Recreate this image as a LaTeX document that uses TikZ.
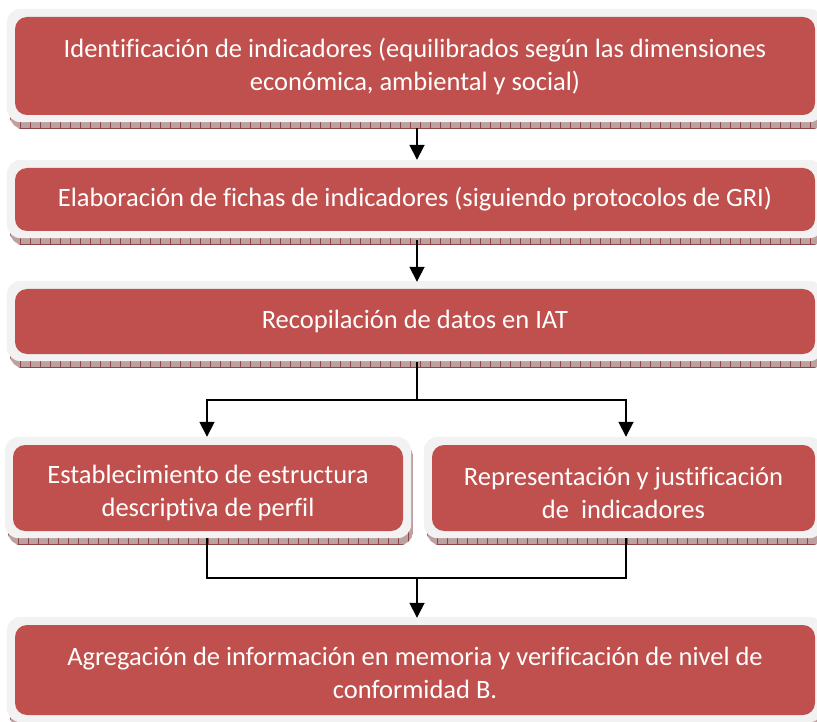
\documentclass[tikz,border=0pt]{standalone}
\usepackage{fontspec}
\setmainfont[Ligatures={NoCommon}]{Carlito}
\usetikzlibrary{arrows.meta,calc}
\definecolor{boxred}{RGB}{192,80,77}
\definecolor{outergray}{RGB}{242,242,242}
\definecolor{hatchc}{RGB}{190,160,160}
\definecolor{tickc}{RGB}{140,70,70}
\pgfdeclarelayer{background}
\pgfsetlayers{background,main}
\newcommand{\boxbg}[1]{%
  \begin{scope}
    \clip[rounded corners=14pt] ($(#1.north west)+(-5,-2)$) rectangle ($(#1.south east)+(10,14)$);
    \fill[hatchc] ($(#1.north west)+(-5,-2)$) rectangle ($(#1.south east)+(10,14)$);
    \draw[tickc, line width=0.6pt] ($(#1.south west)+(-5,13.5)$) -- ($(#1.south east)+(10,13.5)$);
    \foreach \k in {0,...,82}{\draw[tickc, line width=0.6pt] ($(#1.south west)+(10*\k-5,0)$) -- ($(#1.south west)+(10*\k-5,14)$);}
  \end{scope}
  \fill[outergray, rounded corners=14pt] ($(#1.north west)+(-8,-8)$) rectangle ($(#1.south east)+(8,7)$);
}
\newcommand{\upstrut}[1]{\rule{0pt}{#1}}
\tikzset{
  x=1pt, y=-1pt,
  redbox/.style={fill=boxred, rounded corners=12pt, text=white, align=center,
    inner sep=0pt, font=\fontsize{26.5}{33}\selectfont},
  conn/.style={line width=1.8pt, black, line join=miter},
  arr/.style={conn, -{Triangle[width=15pt,length=15pt]}},
}
\begin{document}
\begin{tikzpicture}
\useasboundingbox (0,0) rectangle (817,722);
\node[redbox, minimum width=800pt, minimum height=98pt] (b1) at (415,66)
  {Identificación de indicadores (equilibrados según las dimensiones\\ económica, ambiental y social)};
\node[redbox, minimum width=800pt, minimum height=63pt] (b2) at (415,199.5)
  {Elaboración de fichas de indicadores (siguiendo protocolos de GRI)};
\node[redbox, minimum width=800pt, minimum height=65pt] (b3) at (415,321.5)
  {Recopilación de datos en IAT};
\node[redbox, minimum width=390pt, minimum height=86pt] (b4) at (208,488)
  {\upstrut{29pt}Establecimiento de estructura\\ descriptiva de perfil};
\node[redbox, minimum width=383pt, minimum height=86pt] (b5) at (623.5,488)
  {\upstrut{29pt}Representación y justificación\\ de\ \ indicadores};
\node[redbox, minimum width=800pt, minimum height=90pt] (b6) at (415,670)
  {\upstrut{25pt}Agregación de información en memoria y verificación de nivel de\\ conformidad B.};
\begin{pgfonlayer}{background}
\boxbg{b1}\boxbg{b2}\boxbg{b3}\boxbg{b4}\boxbg{b5}\boxbg{b6}
\end{pgfonlayer}
\draw[arr] ($(b1.south)+(2,13)$) -- ($(b2.north)+(2,-8)$);
\draw[arr] ($(b2.south)+(2,9)$) -- ($(b3.north)+(2,-7)$);
\coordinate (j1) at ($(b3.south)+(2,46)$);
\draw[conn] ($(b3.south)+(2,8)$) -- (j1);
\draw[arr] (j1) -| ($(b4.north)+(-1,-8)$);
\draw[arr] (j1) -| ($(b5.north)+(2.5,-8)$);
\coordinate (j2) at ($(b6.north)+(2,-47)$);
\draw[conn] ($(b4.south)+(-1,7)$) |- ($(b5.south)+(2.5,47)$) -- ($(b5.south)+(2.5,7)$);
\draw[arr] (j2) -- ($(b6.north)+(2,-7)$);
\end{tikzpicture}
\end{document}
